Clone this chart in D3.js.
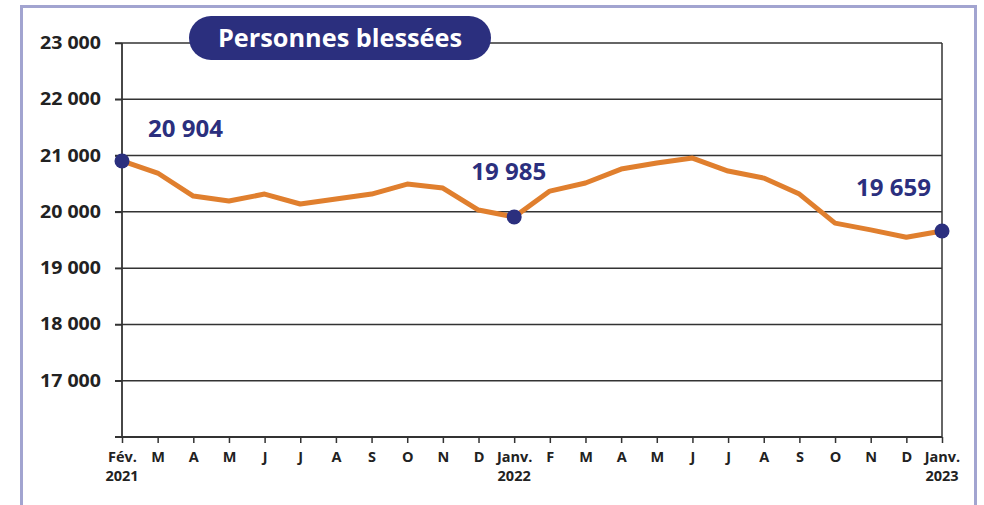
<!DOCTYPE html>
<html><head><meta charset="utf-8">
<script src="https://cdn.jsdelivr.net/npm/d3@7"></script>
<style>body{margin:0;background:#fff;}svg{display:block;font-family:"Open Sans",sans-serif;}</style>
</head><body>
<svg id="chart" width="984" height="505"></svg>
<script>
const title = "Personnes blessées";
const monthLabels = ["Fév.","M","A","M","J","J","A","S","O","N","D","Janv.","F","M","A","M","J","J","A","S","O","N","D","Janv."];
const yearIndex = [0,11,23];
const yearLabels = ["2021","2022","2023"];
const values = [20904,20690,20281,20192,20316,20140,20227,20316,20494,20423,20032,19910,20369,20512,20760,20867,20956,20725,20600,20316,19800,19680,19550,19659];
const highlighted = [0,11,23];
const highlightLabels = ["20 904","19 985","19 659"];
const yTicks = [17000,18000,19000,20000,21000,22000,23000];

const svg = d3.select("#chart");
const navy = "#2b2f7e", orange = "#e07f2e", grid = "#333";

// outer frame
svg.append("rect").attr("x",21.5).attr("y",6.5).attr("width",954).attr("height",520)
  .attr("fill","none").attr("stroke","#a2a4d0").attr("stroke-width",3);

const x = d3.scaleLinear().domain([0, values.length-1]).range([122, 942]);
const y = d3.scaleLinear().domain([16000, 23000]).range([437, 43]);

// gridlines
svg.append("g").selectAll("line").data(yTicks).join("line")
  .attr("x1",115).attr("x2",942).attr("y1",d=>y(d)).attr("y2",d=>y(d))
  .attr("stroke",grid).attr("stroke-width",1.5);
// right border
svg.append("line").attr("x1",942).attr("x2",942).attr("y1",y(23000)).attr("y2",y(16000))
  .attr("stroke",grid).attr("stroke-width",1.5);

// y axis
const yAxis = d3.axisLeft(y).tickValues(yTicks).tickSize(7).tickPadding(14)
  .tickFormat(d=>d3.format(",")(d).replace(","," "));
const gy = svg.append("g").attr("transform","translate(122,0)").call(yAxis);
gy.select(".domain").attr("stroke",grid).attr("stroke-width",1.8).attr("d","M0,"+y(23000)+"V"+y(16000));
gy.selectAll(".tick line").attr("stroke",grid).attr("stroke-width",1.5);
gy.selectAll("text").attr("font-size",17).attr("font-weight",700).attr("fill","#222")
  .attr("font-family","'Open Sans',sans-serif").attr("textLength",61).attr("lengthAdjust","spacingAndGlyphs");

// x axis
const xAxis = d3.axisBottom(x).tickValues(d3.range(values.length)).tickSize(6).tickPadding(4)
  .tickFormat(i=>monthLabels[i]);
const gx = svg.append("g").attr("transform","translate(0,437)").call(xAxis);
gx.select(".domain").attr("stroke",grid).attr("stroke-width",1.8).attr("d","M115,0H942");
gx.selectAll(".tick line").attr("stroke",grid).attr("stroke-width",1.5);
gx.selectAll(".tick text").attr("font-size",14.5).attr("font-weight",700).attr("fill","#222")
  .attr("font-family","'Open Sans',sans-serif").attr("dy","1.0em");
// year labels under first/middle/last ticks
svg.append("g").selectAll("text").data(yearIndex).join("text")
  .attr("x",i=>x(i)).attr("y",481).attr("text-anchor","middle")
  .attr("font-size",14.5).attr("font-weight",700).attr("fill","#222")
  .text((i,k)=>yearLabels[k]);

// line
const line = d3.line().x((d,i)=>x(i)).y(d=>y(d));
svg.append("path").datum(values).attr("d",line).attr("fill","none")
  .attr("stroke",orange).attr("stroke-width",5).attr("stroke-linejoin","round");

// dots
svg.append("g").selectAll("circle").data(highlighted).join("circle")
  .attr("cx",i=>x(i)).attr("cy",i=>y(values[i])).attr("r",7.5).attr("fill",navy);

// value labels
const labelPos = [{dx:26,dy:-24},{dx:-43,dy:-37},{dx:-86,dy:-35}];
svg.append("g").selectAll("text").data(highlighted).join("text")
  .attr("x",(i,k)=>x(i)+labelPos[k].dx).attr("y",(i,k)=>y(values[i])+labelPos[k].dy)
  .attr("text-anchor","start")
  .attr("font-size",24).attr("font-weight",700).attr("fill",navy)
  .attr("textLength",75).attr("lengthAdjust","spacingAndGlyphs")
  .text((i,k)=>highlightLabels[k]);

// title badge
svg.append("rect").attr("x",189).attr("y",16).attr("width",302).attr("height",44).attr("rx",22)
  .attr("fill",navy);
svg.append("text").attr("x",340).attr("y",47).attr("text-anchor","middle")
  .attr("font-size",25.5).attr("font-weight",700).attr("fill","#fff")
  .attr("textLength",244).attr("lengthAdjust","spacingAndGlyphs").text(title);
</script>
</body></html>
